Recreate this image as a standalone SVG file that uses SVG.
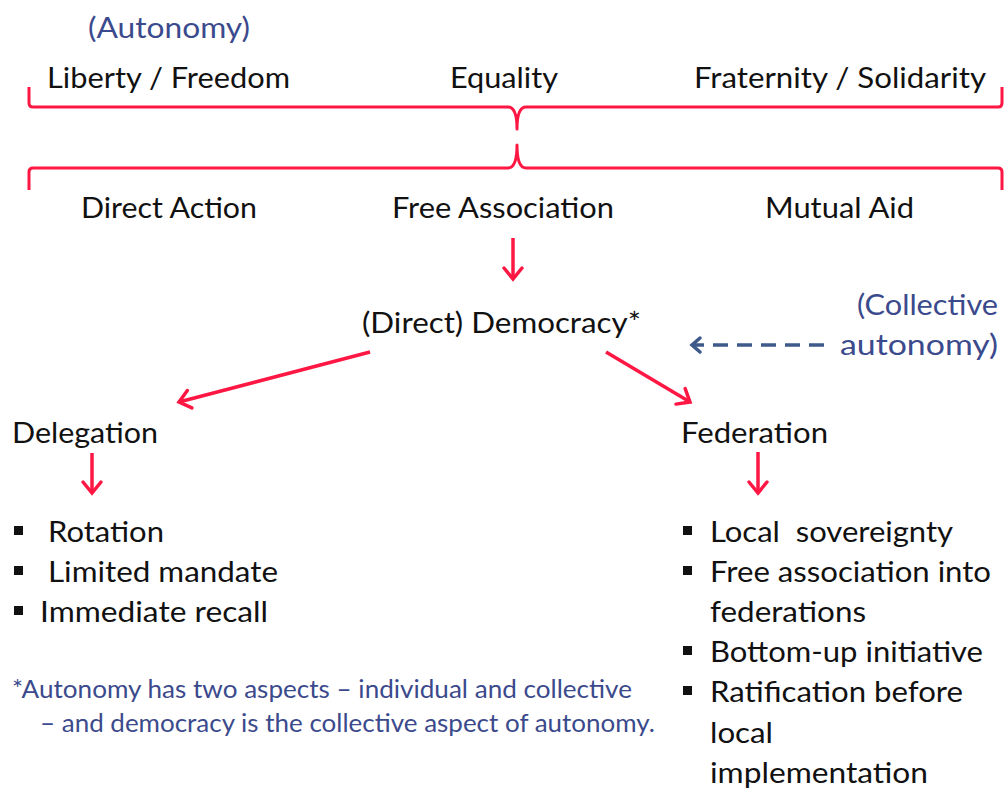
<svg xmlns="http://www.w3.org/2000/svg" width="1005" height="788" viewBox="0 0 1005 788">
<defs>
<style>
text{font-family:Lato,"Open Sans","Liberation Sans",sans-serif;}
.t{font-size:29px;fill:#111;}
.b{font-size:29px;fill:#3b4a8c;}
.f{font-size:25px;fill:#3b4a8c;}
.brace{fill:none;stroke:#ff1744;stroke-width:3;stroke-linejoin:round;}
.red{fill:none;stroke:#ff1744;stroke-width:3.5;}
.dash{fill:none;stroke:#3e5a8a;stroke-width:3.5;stroke-dasharray:15 9;}
.sq{fill:#111;}
</style>
<marker id="ah" markerUnits="userSpaceOnUse" markerWidth="24" markerHeight="24" refX="14" refY="10" orient="auto" viewBox="0 0 24 20">
<path d="M3,1 L14,10 L3,19" fill="none" stroke="#ff1744" stroke-width="3.5" stroke-linecap="round" stroke-linejoin="miter"/>
</marker>
<marker id="bh" markerUnits="userSpaceOnUse" markerWidth="20" markerHeight="20" refX="11" refY="8" orient="auto" viewBox="0 0 20 16">
<path d="M3,1 L11,8 L3,15" fill="none" stroke="#3e5a8a" stroke-width="3.5" stroke-linecap="round"/>
</marker>
</defs>
<rect width="1005" height="788" fill="#fff"/>

<g id="values">
<text class="b" x="88" y="38" textLength="162" lengthAdjust="spacingAndGlyphs">(Autonomy)</text>
<text class="t" x="47" y="88" textLength="243" lengthAdjust="spacingAndGlyphs">Liberty / Freedom</text>
<text class="t" x="450" y="88" textLength="108" lengthAdjust="spacingAndGlyphs">Equality</text>
<text class="t" x="694" y="88" textLength="292" lengthAdjust="spacingAndGlyphs">Fraternity / Solidarity</text>
</g>

<g id="braces">
<path class="brace" d="M29,87 L29,103 Q29,107 33,107 L508,107 Q517,107 517,129 Q517,107 526,107 L998,107 Q1002,107 1002,103 L1002,87"/>
<path class="brace" d="M29,190 L29,172 Q29,168 33,168 L508,168 Q517,168 517,145 Q517,168 526,168 L998,168 Q1002,168 1002,172 L1002,190"/>
</g>

<g id="principles">
<text class="t" x="81" y="218" textLength="176" lengthAdjust="spacingAndGlyphs">Direct Action</text>
<text class="t" x="392" y="218" textLength="222" lengthAdjust="spacingAndGlyphs">Free Association</text>
<text class="t" x="765" y="218" textLength="149" lengthAdjust="spacingAndGlyphs">Mutual Aid</text>
</g>

<g id="democracy">
<text class="t" x="362" y="333" textLength="279" lengthAdjust="spacingAndGlyphs">(Direct) Democracy*</text>
</g>

<g id="collective">
<text class="b" x="998" y="315" text-anchor="end" textLength="141" lengthAdjust="spacingAndGlyphs">(Collective</text>
<text class="b" x="998" y="355" text-anchor="end" textLength="158" lengthAdjust="spacingAndGlyphs">autonomy)</text>
</g>

<g id="delegation">
<text class="t" x="12" y="443" textLength="146" lengthAdjust="spacingAndGlyphs">Delegation</text>
<rect class="sq" x="14" y="526" width="9" height="9"/>
<text class="t" x="48" y="542" textLength="116" lengthAdjust="spacingAndGlyphs">Rotation</text>
<rect class="sq" x="14" y="566" width="9" height="9"/>
<text class="t" x="48" y="582" textLength="230" lengthAdjust="spacingAndGlyphs">Limited mandate</text>
<rect class="sq" x="14" y="606" width="9" height="9"/>
<text class="t" x="40" y="622" textLength="228" lengthAdjust="spacingAndGlyphs">Immediate recall</text>
</g>

<g id="federation">
<text class="t" x="681" y="443" textLength="147" lengthAdjust="spacingAndGlyphs">Federation</text>
<rect class="sq" x="683" y="526" width="9" height="9"/>
<text class="t" x="710" y="542" textLength="243" lengthAdjust="spacingAndGlyphs" style="white-space:pre">Local  sovereignty</text>
<rect class="sq" x="683" y="566" width="9" height="9"/>
<text class="t" x="710" y="582" textLength="281" lengthAdjust="spacingAndGlyphs">Free association into</text>
<text class="t" x="710" y="622" textLength="156" lengthAdjust="spacingAndGlyphs">federations</text>
<rect class="sq" x="683" y="646" width="9" height="9"/>
<text class="t" x="710" y="662" textLength="273" lengthAdjust="spacingAndGlyphs">Bottom-up initiative</text>
<rect class="sq" x="683" y="686" width="9" height="9"/>
<text class="t" x="710" y="702" textLength="253" lengthAdjust="spacingAndGlyphs">Ratification before</text>
<text class="t" x="710" y="743" textLength="63" lengthAdjust="spacingAndGlyphs">local</text>
<text class="t" x="710" y="783" textLength="218" lengthAdjust="spacingAndGlyphs">implementation</text>
</g>

<g id="footnote">
<text class="f" x="12" y="698" textLength="620" lengthAdjust="spacingAndGlyphs">*Autonomy has two aspects – individual and collective</text>
<text class="f" x="40" y="732" textLength="615" lengthAdjust="spacingAndGlyphs">– and democracy is the collective aspect of autonomy.</text>
</g>

<g id="connectors">
<line class="red" x1="513" y1="238" x2="513" y2="279" marker-end="url(#ah)"/>
<line class="red" x1="370" y1="352" x2="179" y2="402" marker-end="url(#ah)"/>
<line class="red" x1="606" y1="352" x2="690" y2="402" marker-end="url(#ah)"/>
<line class="red" x1="92" y1="453" x2="92" y2="493" marker-end="url(#ah)"/>
<line class="red" x1="758" y1="452" x2="758" y2="493" marker-end="url(#ah)"/>
<line class="dash" x1="824" y1="345" x2="692" y2="345" marker-end="url(#bh)"/>
</g>
</svg>
